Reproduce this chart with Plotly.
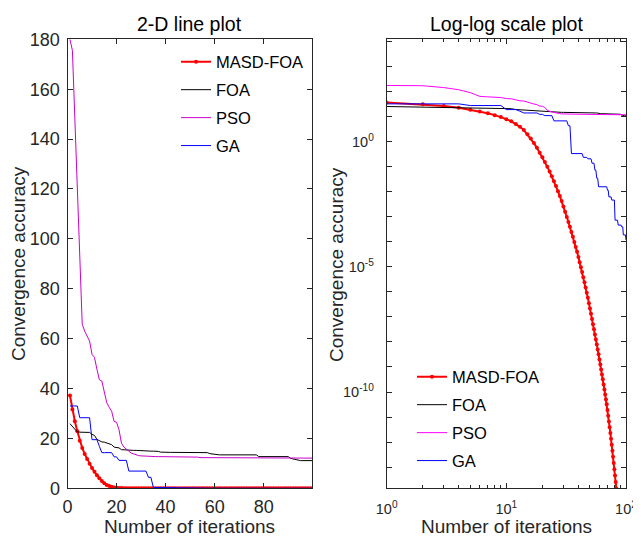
import plotly.graph_objects as go

# ---------------- data ----------------
iterations = list(range(1, 101))

masd_foa = [37.2, 31.6, 26.9, 22.9, 19.1, 16.2, 13.8, 11.7, 9.8, 8.1,
            6.6, 5.2, 4.0, 2.95, 2.0, 1.35, 0.89, 0.575, 0.37, 0.24,
            0.155, 0.1, 0.0646, 0.0417, 0.0269, 1.7e-2, 1.07e-2, 6.8e-3, 4.3e-3, 2.6e-3,
            1.6e-3, 1.0e-3, 6.3e-4, 4.0e-4, 2.5e-4, 1.6e-4, 1.0e-4, 6.3e-5, 4.0e-5, 2.5e-5,
            1.55e-5, 9.8e-6, 6.2e-6, 3.9e-6, 2.45e-6, 1.5e-6, 9.3e-7, 5.8e-7, 3.5e-7, 2.2e-7,
            1.35e-7, 8.3e-8, 5.1e-8, 3.2e-8, 2.0e-8, 1.26e-8, 7.9e-9, 5.0e-9, 3.2e-9, 2.0e-9,
            1.26e-9, 7.9e-10, 5.0e-10, 3.2e-10, 2.0e-10, 1.26e-10, 7.9e-11, 5.0e-11, 3.2e-11, 1.9e-11,
            1.12e-11, 6.6e-12, 3.9e-12, 2.3e-12, 1.35e-12, 7.8e-13, 4.5e-13, 2.6e-13, 1.45e-13, 8.1e-14,
            4.6e-14, 2.5e-14, 1.4e-14, 7.6e-15, 4.2e-15, 2.3e-15, 1.26e-15, 6.9e-16, 3.8e-16, 2.1e-16,
            1.15e-16, 6.3e-17, 3.5e-17, 1.9e-17, 1.05e-17, 5.8e-18, 3.2e-18, 1.7e-18, 9.5e-19, 5.2e-19]

foa = ([25.9, 24.8, 23.6, 22.6, 22.5, 22.5, 22.5, 22.5, 22.4, 21.6,
        21.2, 19.6, 19.1, 18.6, 18.5, 18.1, 17.7, 17.5, 16.5, 16.3,
        16.2, 15.5, 15.4, 15.4, 15.3, 15.3, 15.2, 15.2, 15.1, 15.1,
        15.0, 15.0, 15.0, 14.9, 14.9, 14.9, 14.8, 14.5, 14.4]
       + [14.4] * 9 + [14.3] * 9
       + [13.9, 13.7, 13.6, 13.5]
       + [13.4] * 16 + [12.7] * 13
       + [12.0, 11.7, 11.7, 11.4]
       + [11.1] * 6)

pso = ([180.0, 175.5, 148.0, 121.0, 93.0, 65.8, 63.0, 61.0, 59.0, 53.7,
        52.5, 47.7, 43.5, 43.0, 38.0, 34.3, 32.5, 30.9, 26.8, 26.5,
        23.5, 18.1, 16.5, 15.7, 15.0, 14.1, 13.8, 13.4, 13.1, 13.0,
        12.9, 12.8, 12.8]
       + [12.7] * 7 + [12.5] * 13 + [12.3] * 22 + [12.1] * 25)

ga = ([33.0] * 4 + [28.3] * 5 + [19.5] * 3 + [16.8] + [14.3] * 5
      + [12.6] * 2 + [11.2] * 4 + [6.9] * 8 + [4.4] * 2 + [0.34] * 9
      + [0.24] * 4 + [0.21] * 4 + [0.14] * 3 + [0.074] * 2 + [0.035] * 2
      + [0.016] * 11 + [0.0117] * 2 + [0.0063] * 4 + [0.0047] * 5
      + [0.00074] * 5 + [0.00047] * 6 + [0.0004] * 3 + [0.00019] * 5 + [0.00012])

series_names = ["MASD-FOA", "FOA", "PSO", "GA"]

lin_xticks = [0, 20, 40, 60, 80]
lin_yticks = [0, 20, 40, 60, 80, 100, 120, 140, 160, 180]
log_xticks = [1, 10, 100]
log_xticktext = ["10<sup>0</sup>", "10<sup>1</sup>", "10<sup>2</sup>"]
log_xminor = [2, 3, 4, 5, 6, 7, 8, 9, 20, 30, 40, 50, 60, 70, 80, 90]
log_yexp = list(range(-13, 5))
log_yticks = [10.0 ** e for e in log_yexp]
log_yticktext = [("10<sup>%d</sup>" % e) if e in (0, -5, -10) else "" for e in log_yexp]

# ---------------- figure ----------------
# the page body has an 8px margin, so the figure is made 8px smaller and
# every target pixel position is shifted by that offset
OFF = 8
W, H = 641 - OFF, 536 - OFF
FONT = "Liberation Sans, Arial, Helvetica, sans-serif"
AX = "#262626"


def px_x(p):
    return (p - OFF) / W


def px_y(p):
    return 1 - (p - OFF) / H


fig = go.Figure()

data_sets = [masd_foa, foa, pso, ga]
colors_left = ["#ff0000", "#000000", "#cc00cc", "#0000ff"]
colors_right = ["#ff0000", "#000000", "#ff00ff", "#0000ff"]
widths = [2, 1, 1, 1]

for i, (nm, ys) in enumerate(zip(series_names, data_sets)):
    is_red = i == 0
    fig.add_trace(go.Scatter(
        x=iterations, y=ys, name=nm,
        mode="lines+markers" if is_red else "lines",
        line=dict(color=colors_left[i], width=widths[i]),
        marker=dict(size=4, color=colors_left[i]) if is_red else None,
        xaxis="x", yaxis="y", legend="legend", legendgroup="L%d" % i,
    ))

for i, (nm, ys) in enumerate(zip(series_names, data_sets)):
    is_red = i == 0
    fig.add_trace(go.Scatter(
        x=iterations, y=ys, name=nm,
        mode="lines+markers" if is_red else "lines",
        line=dict(color=colors_right[i], width=widths[i]),
        marker=dict(size=4, color=colors_right[i]) if is_red else None,
        xaxis="x2", yaxis="y2", legend="legend2", legendgroup="R%d" % i,
    ))

axis_common = dict(
    showline=True, linecolor=AX, linewidth=1, mirror="ticks",
    ticks="inside", tickcolor=AX, ticklen=5, tickwidth=1,
    showgrid=False, zeroline=False, ticklabeloverflow="allow",
)
lin_tickfont = dict(family=FONT, size=18, color=AX)
log_tickfont = dict(family=FONT, size=14.5, color=AX)

ydom = [px_y(488.3), px_y(39.3)]

fig.update_layout(
    width=W, height=H,
    margin=dict(l=0, r=0, t=0, b=0, autoexpand=False),
    paper_bgcolor="white", plot_bgcolor="white",
    font=dict(family=FONT, color=AX),
    xaxis=dict(domain=[px_x(67.5), px_x(312.3)], range=[0, 99.8],
               tickmode="array", tickvals=lin_xticks, anchor="y",
               ticklabelstandoff=2, tickfont=lin_tickfont, **axis_common),
    yaxis=dict(domain=ydom, range=[0, 180], tickmode="array", tickvals=lin_yticks,
               anchor="x", ticklabelstandoff=3, tickfont=lin_tickfont, **axis_common),
    xaxis2=dict(domain=[px_x(386.7), px_x(626)], type="log", range=[0, 2],
                tickmode="array", tickvals=log_xticks, ticktext=log_xticktext,
                minor=dict(tickmode="array", tickvals=log_xminor, ticks="inside",
                           ticklen=3, tickcolor=AX),
                anchor="y2", ticklabelstandoff=7, tickfont=log_tickfont, **axis_common),
    yaxis2=dict(domain=ydom, type="log", range=[-13.85, 4.1],
                tickmode="array", tickvals=log_yticks, ticktext=log_yticktext,
                anchor="x2", ticklabelstandoff=9, tickfont=log_tickfont, **axis_common),
    legend=dict(x=px_x(176), y=px_y(44.5), xanchor="left", yanchor="top",
                bgcolor="rgba(0,0,0,0)", borderwidth=0,
                font=dict(family=FONT, size=16.5, color="#000000"),
                tracegroupgap=3.5, traceorder="grouped"),
    legend2=dict(x=px_x(412), y=px_y(359.5), xanchor="left", yanchor="top",
                 bgcolor="rgba(0,0,0,0)", borderwidth=0,
                 font=dict(family=FONT, size=16.5, color="#000000"),
                 tracegroupgap=3.5, traceorder="grouped"),
    showlegend=True,
)

ann_font_title = dict(family=FONT, size=19.5, color="#000000")
ann_font_axis = dict(family=FONT, size=19, color=AX)
annotations = [
    dict(text="2-D line plot", x=px_x(189.9), y=px_y(24), font=ann_font_title),
    dict(text="Log-log scale plot", x=px_x(506.3), y=px_y(24), font=ann_font_title),
    dict(text="Number of iterations", x=px_x(189.9), y=px_y(526.5), font=ann_font_axis),
    dict(text="Number of iterations", x=px_x(506.3), y=px_y(526.5), font=ann_font_axis),
    dict(text="Convergence accuracy", x=px_x(18), y=px_y(264), textangle=-90, font=ann_font_axis),
    dict(text="Convergence accuracy", x=px_x(336), y=px_y(264), textangle=-90, font=ann_font_axis),
]
for a in annotations:
    a.update(xref="paper", yref="paper", showarrow=False, xanchor="center", yanchor="middle")
fig.update_layout(annotations=annotations)

fig.write_html("out.html")
